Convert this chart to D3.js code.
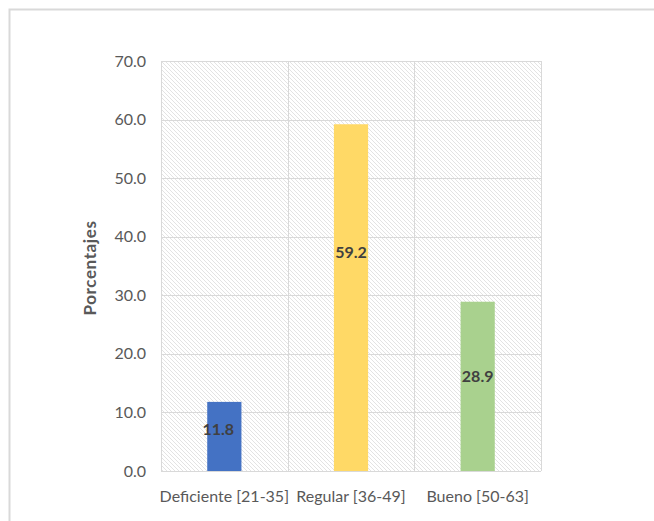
<!DOCTYPE html>
<html>
<head>
<meta charset="utf-8">
<script src="https://cdn.jsdelivr.net/npm/d3@7"></script>
<style>
  html, body { margin: 0; padding: 0; background: #fff; }
  svg { display: block; }
</style>
</head>
<body>
<svg id="chart" width="654" height="521"></svg>
<script>
// Categories, values and axis ticks
const categories = ["Deficiente [21-35]", "Regular [36-49]", "Bueno [50-63]"];
const values = [11.8, 59.2, 28.9];
const barColors = ["#4472C4", "#FFD966", "#A9D18E"];
const yTicks = [0, 10, 20, 30, 40, 50, 60, 70];
const yTitle = "Porcentajes";

// Where each value label sits, in axis units
const labelAt = [7.1, 37.4, 16.1];
const labelShift = [-6, 0, 0];

const svg = d3.select("#chart");
const plot = { left: 161, right: 541, top: 61, bottom: 471 };

// Outer frame
svg.append("rect")
  .attr("x", 9.5).attr("y", 9.5)
  .attr("width", 700).attr("height", 600)
  .attr("fill", "#fff")
  .attr("stroke", "#d9d9d9").attr("stroke-width", 2);

// Diagonal hatch fill for the plot area
const defs = svg.append("defs");
const pat = defs.append("pattern")
  .attr("id", "hatch")
  .attr("patternUnits", "userSpaceOnUse")
  .attr("width", 4).attr("height", 4);
pat.append("rect").attr("width", 4).attr("height", 4).attr("fill", "#fff");
pat.append("path")
  .attr("d", "M0,0 L4,4 M-1,3 L1,5 M3,-1 L5,1")
  .attr("stroke", "#e0e0e0").attr("stroke-width", 0.9);

const x = d3.scaleBand()
  .domain(categories)
  .range([plot.left, plot.right])
  .padding(0);

const y = d3.scaleLinear()
  .domain([0, 70])
  .range([plot.bottom, plot.top]);

svg.append("rect")
  .attr("x", plot.left).attr("y", plot.top)
  .attr("width", plot.right - plot.left)
  .attr("height", plot.bottom - plot.top)
  .attr("fill", "url(#hatch)");

// Horizontal gridlines
svg.append("g")
  .selectAll("line")
  .data(yTicks)
  .join("line")
  .attr("x1", plot.left).attr("x2", plot.right)
  .attr("y1", d => Math.round(y(d)) + 0.5)
  .attr("y2", d => Math.round(y(d)) + 0.5)
  .attr("stroke", "#d9d9d9").attr("stroke-width", 1);

// Vertical gridlines at category boundaries
const edges = categories.map(c => x(c)).concat([plot.right]);
svg.append("g")
  .selectAll("line")
  .data(edges)
  .join("line")
  .attr("x1", d => Math.round(d) + 0.5).attr("x2", d => Math.round(d) + 0.5)
  .attr("y1", plot.top).attr("y2", plot.bottom)
  .attr("stroke", "#d9d9d9").attr("stroke-width", 1);

// Bars
const barW = x.bandwidth() * 0.27;
svg.append("g")
  .selectAll("rect")
  .data(values)
  .join("rect")
  .attr("x", (d, i) => x(categories[i]) + x.bandwidth() / 2 - barW / 2)
  .attr("y", d => y(d))
  .attr("width", barW)
  .attr("height", d => y(0) - y(d))
  .attr("fill", (d, i) => barColors[i]);

// Y axis tick labels
const yAxis = d3.axisLeft(y)
  .tickValues(yTicks)
  .tickFormat(d3.format(".1f"))
  .tickSize(0)
  .tickPadding(15);
const gy = svg.append("g")
  .attr("transform", `translate(${plot.left},0)`)
  .call(yAxis);
gy.select(".domain").remove();
gy.selectAll("text")
  .attr("font-family", "Lato, 'Open Sans', sans-serif")
  .attr("font-size", 16)
  .attr("fill", "#595959");

// X axis category labels
const xAxis = d3.axisBottom(x).tickSize(0).tickPadding(20);
const gx = svg.append("g")
  .attr("transform", `translate(0,${plot.bottom})`)
  .call(xAxis);
gx.select(".domain").remove();
gx.selectAll("text")
  .attr("font-family", "Lato, 'Open Sans', sans-serif")
  .attr("font-size", 16)
  .attr("fill", "#595959");

// Value labels
svg.append("g")
  .selectAll("text")
  .data(values)
  .join("text")
  .attr("x", (d, i) => x(categories[i]) + x.bandwidth() / 2 + labelShift[i])
  .attr("y", (d, i) => y(labelAt[i]))
  .attr("dy", "0.35em")
  .attr("text-anchor", "middle")
  .attr("font-family", "Lato, 'Open Sans', sans-serif")
  .attr("font-weight", "bold")
  .attr("font-size", 16)
  .attr("fill", "#404040")
  .text(d => d3.format(".1f")(d));

// Y axis title
svg.append("text")
  .attr("transform", `translate(96,268) rotate(-90)`)
  .attr("text-anchor", "middle")
  .attr("font-family", "Lato, 'Open Sans', sans-serif")
  .attr("font-weight", "bold")
  .attr("font-size", 17)
  .attr("letter-spacing", 0.6)
  .attr("fill", "#595959")
  .text(yTitle);
</script>
</body>
</html>
